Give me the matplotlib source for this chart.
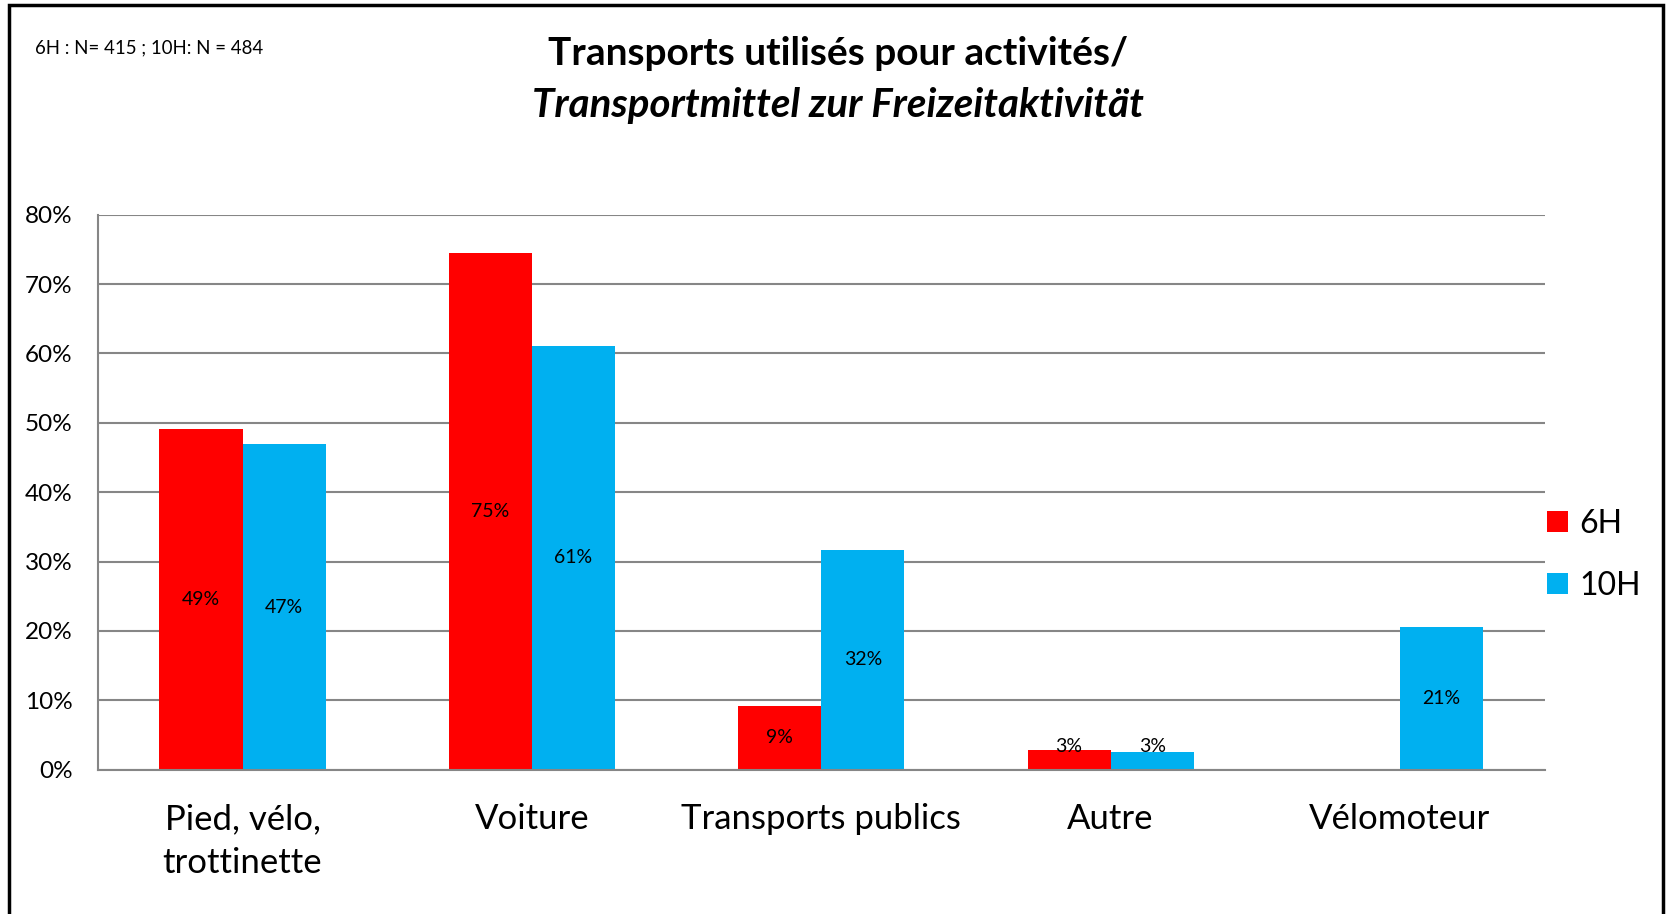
from matplotlib import pyplot as plt
from matplotlib.patches import Rectangle
import numpy as np

# data
categories = ['Pied, vélo,\ntrottinette', 'Voiture', 'Transports publics', 'Autre', 'Vélomoteur']
values_6h = [49.1, 74.5, 9.2, 2.9, 0.0]
values_10h = [46.9, 61.1, 31.7, 2.6, 20.5]
labels_6h = ['49%', '75%', '9%', '3%', '']
labels_10h = ['47%', '61%', '32%', '3%', '21%']
yticks = [0, 10, 20, 30, 40, 50, 60, 70, 80]

red = '#FF0000'
blue = '#00B0F0'
grey = '#868686'

plt.rcParams['font.family'] = ['Lato', 'DejaVu Sans']

fig = plt.figure(figsize=(16.67, 9.14), dpi=100)
ax = fig.add_axes([0.0587, 0.1579, 0.8679, 0.6072])

x = np.arange(len(categories))
w = 0.287
ax.bar(x - w / 2, values_6h, w, color=red, label='6H', zorder=3)
ax.bar(x + w / 2, values_10h, w, color=blue, label='10H', zorder=3)

# data labels in the middle of the bars (Excel keeps tiny ones off the axis)
for xs, vals, labs in [(x - w / 2, values_6h, labels_6h), (x + w / 2, values_10h, labels_10h)]:
    for xi, v, lab in zip(xs, vals, labs):
        if lab:
            ax.text(xi, max(v / 2, 3.4), lab, ha='center', va='center', fontsize=14, zorder=4)

ax.set_xlim(-0.5, len(categories) - 0.5)
ax.set_ylim(0, 80)
ax.set_yticks(yticks)
ax.set_yticklabels([f'{t}%' for t in yticks], fontsize=17.5)
ax.set_xticks(x)
ax.set_xticklabels(categories, fontsize=25, linespacing=1.45)
ax.tick_params(axis='y', length=0, pad=18)
ax.tick_params(axis='x', length=0, pad=24)

ax.grid(True, axis='y', color=grey, linewidth=1.5, zorder=0)
for side in ['top', 'right']:
    ax.spines[side].set_visible(False)
for side in ['left', 'bottom']:
    ax.spines[side].set_color(grey)
    ax.spines[side].set_linewidth(1.5)
    ax.spines[side].set_zorder(5)

ax.legend(loc='center left', bbox_to_anchor=(0.928, 0.393), bbox_transform=fig.transFigure,
          frameon=False, fontsize=23, handlelength=0.65, handleheight=0.65,
          handletextpad=0.35, labelspacing=1.0, borderpad=0, borderaxespad=0)

# titles and note
fig.text(0.5027, 0.942, 'Transports utilisés pour activités/', ha='center', va='center',
         fontsize=28, fontweight='bold')
fig.text(0.5027, 0.885, 'Transportmittel zur Freizeitaktivität', ha='center', va='center',
         fontsize=29, fontweight='bold', fontstyle='italic')
fig.text(0.021, 0.9475, '6H : N= 415 ; 10H: N = 484', ha='left', va='center', fontsize=13.4)

# chart border
fig.patches.append(Rectangle((9 / 1667, -0.1), (1663 - 9) / 1667, 1.1 - 5 / 914,
                             transform=fig.transFigure, fill=False, edgecolor='black',
                             linewidth=2.5))

plt.savefig('out.png', dpi=100)
